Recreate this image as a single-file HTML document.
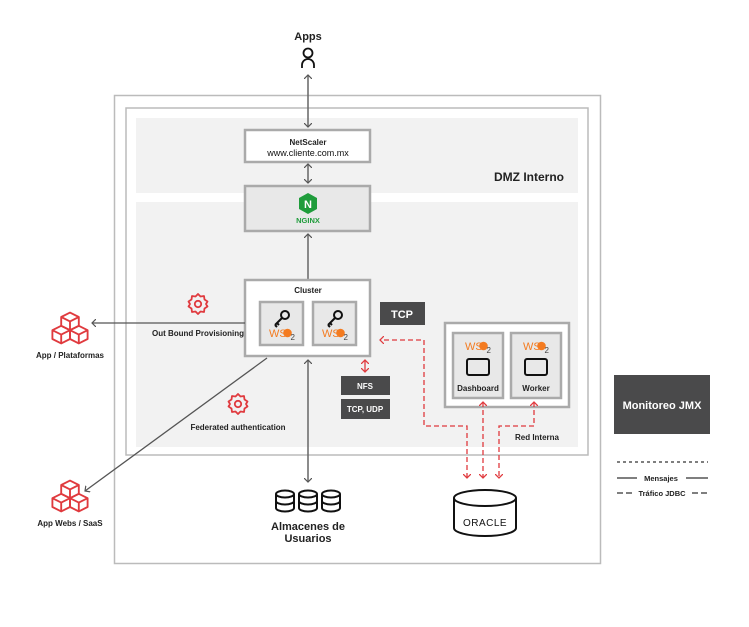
<!DOCTYPE html>
<html><head><meta charset="utf-8"><style>
html,body{margin:0;padding:0;background:#fff}
svg{display:block}
text{font-family:"Liberation Sans",sans-serif;font-weight:bold;fill:#222}
</style></head><body>
<svg width="749" height="627" viewBox="0 0 749 627" xmlns="http://www.w3.org/2000/svg">
<defs>
<marker id="ag" markerWidth="8" markerHeight="8" refX="4" refY="4" orient="auto-start-reverse" markerUnits="userSpaceOnUse"><path d="M0,0 L4,4 L0,8" fill="none" stroke="#555" stroke-width="1.2"/></marker>
<marker id="ar" markerWidth="8" markerHeight="8" refX="4" refY="4" orient="auto-start-reverse" markerUnits="userSpaceOnUse"><path d="M0,0 L4,4 L0,8" fill="none" stroke="#e03a3e" stroke-width="1.3"/></marker>
<g id="gear"><circle cx="0" cy="0" r="3.2" fill="none" stroke="#e03a3e" stroke-width="1.8"/><path d="M0,-10 L2.5,-7.5 L6,-8 L6.5,-4.5 L9.5,-2.5 L8,0 L9.5,2.5 L6.5,4.5 L6,8 L2.5,7.5 L0,10 L-2.5,7.5 L-6,8 L-6.5,4.5 L-9.5,2.5 L-8,0 L-9.5,-2.5 L-6.5,-4.5 L-6,-8 L-2.5,-7.5 Z" fill="none" stroke="#e03a3e" stroke-width="1.8" stroke-linejoin="round"/></g>
<g id="cubes" fill="none" stroke="#e03a3e" stroke-width="1.7" stroke-linejoin="round" transform="scale(1.1)">
<path d="M0,-14 L8,-10 L8,-2 L0,2 L-8,-2 L-8,-10 Z M-8,-10 L0,-6 L8,-10 M0,-6 L0,2"/>
<path d="M-8,-2 L0,2 L0,10 L-8,14 L-16,10 L-16,2 Z M-16,2 L-8,6 L0,2 M-8,6 L-8,14"/>
<path d="M8,-2 L16,2 L16,10 L8,14 L0,10 L0,2 Z M0,2 L8,6 L16,2 M8,6 L8,14"/>
</g>
<g id="db" fill="none" stroke="#111" stroke-width="2"><ellipse cx="0" cy="-7" rx="9" ry="3.5"/><path d="M-9,-7 V7 A9,3.5 0 0 0 9,7 V-7 M-9,0 A9,3.5 0 0 0 9,0"/></g>
<g id="wso"><text x="0" y="0" font-size="11" style="fill:#f47b20;font-weight:normal">WS</text><circle cx="18.5" cy="-4" r="4.3" fill="#f47b20"/><text x="21.5" y="3" font-size="8" style="fill:#444;font-weight:normal">2</text></g>
<g id="key" fill="none" stroke="#111" stroke-width="2"><circle cx="4" cy="-4" r="4"/><path d="M1,-1 L-6,6 M-4,4 L-2,6 M-6,6 L-4,8"/></g>
</defs>

<rect x="114.5" y="95.5" width="486" height="468" fill="#fff" stroke="#bbb" stroke-width="1.5"/>
<rect x="126" y="108" width="462" height="347" fill="#fff" stroke="#bbb" stroke-width="1.5"/>
<rect x="136" y="118" width="442" height="75" fill="#f2f2f2"/>
<rect x="136" y="202" width="442" height="245" fill="#f2f2f2"/>
<text x="564" y="181" font-size="12" text-anchor="end">DMZ Interno</text>

<text x="308" y="40" font-size="11" text-anchor="middle">Apps</text>
<circle cx="308" cy="53" r="4.5" fill="none" stroke="#111" stroke-width="1.8"/>
<path d="M302,68 V65 A6,6 0 0 1 314,65 V68" fill="none" stroke="#111" stroke-width="1.8"/>
<line x1="308" y1="75" x2="308" y2="127" stroke="#666" stroke-width="1.5" marker-start="url(#ag)" marker-end="url(#ag)"/>

<rect x="245" y="130" width="125" height="32" fill="#fff" stroke="#aaa" stroke-width="2.5"/>
<text x="308" y="145" font-size="8" text-anchor="middle">NetScaler</text>
<text x="308" y="156" font-size="9" text-anchor="middle" style="font-weight:normal;fill:#111">www.cliente.com.mx</text>
<line x1="308" y1="164" x2="308" y2="183" stroke="#666" stroke-width="1.5" marker-start="url(#ag)" marker-end="url(#ag)"/>

<rect x="245" y="186" width="125" height="45" fill="#e8e8e8" stroke="#aaa" stroke-width="2.5"/>
<path d="M308,193 L317,198 L317,209 L308,214 L299,209 L299,198 Z" fill="#1f9c3b"/>
<text x="308" y="208" font-size="11" text-anchor="middle" style="fill:#fff">N</text>
<text x="308" y="223" font-size="7.5" text-anchor="middle" style="fill:#1f9c3b">NGINX</text>
<line x1="308" y1="279" x2="308" y2="234" stroke="#666" stroke-width="1.5" marker-end="url(#ag)"/>

<rect x="245" y="280" width="125" height="76" fill="#fff" stroke="#aaa" stroke-width="2.5"/>
<text x="308" y="293" font-size="8" text-anchor="middle">Cluster</text>
<rect x="260" y="302" width="43" height="43" fill="#e8e8e8" stroke="#aaa" stroke-width="2.5"/>
<rect x="313" y="302" width="43" height="43" fill="#e8e8e8" stroke="#aaa" stroke-width="2.5"/>
<use href="#key" x="281" y="319"/><use href="#key" x="334" y="319"/>
<use href="#wso" x="269" y="337"/><use href="#wso" x="322" y="337"/>

<rect x="380" y="302" width="45" height="23" fill="#4a4a4b"/>
<text x="402" y="318" font-size="11" text-anchor="middle" style="fill:#fff">TCP</text>
<rect x="341" y="376" width="49" height="19" fill="#4a4a4b"/>
<text x="365" y="389" font-size="8" text-anchor="middle" style="fill:#fff">NFS</text>
<rect x="341" y="399" width="49" height="20" fill="#4a4a4b"/>
<text x="365" y="412" font-size="8" text-anchor="middle" style="fill:#fff">TCP, UDP</text>
<line x1="365" y1="360" x2="365" y2="372" stroke="#e03a3e" stroke-width="1.3" marker-start="url(#ar)" marker-end="url(#ar)"/>

<rect x="445" y="323" width="124" height="84" fill="#fff" stroke="#aaa" stroke-width="2.5"/>
<rect x="453" y="333" width="50" height="65" fill="#e8e8e8" stroke="#aaa" stroke-width="2.5"/>
<rect x="511" y="333" width="50" height="65" fill="#e8e8e8" stroke="#aaa" stroke-width="2.5"/>
<use href="#wso" x="465" y="350"/><use href="#wso" x="523" y="350"/>
<rect x="467" y="359" width="22" height="16" rx="2" fill="none" stroke="#111" stroke-width="2"/>
<rect x="525" y="359" width="22" height="16" rx="2" fill="none" stroke="#111" stroke-width="2"/>
<text x="478" y="391" font-size="8" text-anchor="middle">Dashboard</text>
<text x="536" y="391" font-size="8" text-anchor="middle">Worker</text>
<text x="537" y="440" font-size="8" text-anchor="middle">Red Interna</text>

<g fill="none" stroke="#e03a3e" stroke-width="1.3" stroke-dasharray="5,3">
<path d="M467,478 V426 H424 V340 H380" marker-start="url(#ar)" marker-end="url(#ar)"/>
<path d="M483,402 V478" marker-start="url(#ar)" marker-end="url(#ar)"/>
<path d="M534,402 V426 H499 V478" marker-start="url(#ar)" marker-end="url(#ar)"/>
</g>

<ellipse cx="485" cy="498" rx="31" ry="8" fill="#fff" stroke="#111" stroke-width="2"/>
<path d="M454,498 V528 A31,8 0 0 0 516,528 V498" fill="none" stroke="#111" stroke-width="2"/>
<text x="485" y="526" font-size="10" text-anchor="middle" style="font-weight:normal;fill:#111;letter-spacing:0.5px">ORACLE</text>

<line x1="245" y1="323" x2="92" y2="323" stroke="#555" stroke-width="1.3" marker-end="url(#ag)"/>
<line x1="267" y1="358" x2="85" y2="491" stroke="#555" stroke-width="1.3" marker-end="url(#ag)"/>
<use href="#gear" x="198" y="304"/>
<text x="198" y="336" font-size="8" text-anchor="middle">Out Bound Provisioning</text>
<use href="#gear" x="238" y="404"/>
<text x="238" y="430" font-size="8" text-anchor="middle">Federated authentication</text>
<use href="#cubes" x="70" y="328"/>
<text x="70" y="358" font-size="8" text-anchor="middle">App / Plataformas</text>
<use href="#cubes" x="70" y="496"/>
<text x="70" y="526" font-size="8" text-anchor="middle">App Webs / SaaS</text>

<line x1="308" y1="360" x2="308" y2="482" stroke="#666" stroke-width="1.5" marker-start="url(#ag)" marker-end="url(#ag)"/>
<use href="#db" x="285" y="501"/><use href="#db" x="308" y="501"/><use href="#db" x="331" y="501"/>
<text x="308" y="530" font-size="11" text-anchor="middle">Almacenes de</text>
<text x="308" y="542" font-size="11" text-anchor="middle">Usuarios</text>

<rect x="614" y="375" width="96" height="59" fill="#4a4a4b"/>
<text x="662" y="409" font-size="11" text-anchor="middle" style="fill:#fff">Monitoreo JMX</text>
<line x1="617" y1="462" x2="708" y2="462" stroke="#333" stroke-width="1.2" stroke-dasharray="3,3"/>
<line x1="617" y1="478" x2="637" y2="478" stroke="#333" stroke-width="1.2"/>
<line x1="686" y1="478" x2="708" y2="478" stroke="#333" stroke-width="1.2"/>
<text x="661" y="481" font-size="7.5" text-anchor="middle">Mensajes</text>
<line x1="617" y1="493" x2="633" y2="493" stroke="#333" stroke-width="1.2" stroke-dasharray="6,3"/>
<line x1="692" y1="493" x2="708" y2="493" stroke="#333" stroke-width="1.2" stroke-dasharray="6,3"/>
<text x="662" y="496" font-size="7.5" text-anchor="middle">Tráfico JDBC</text>
</svg>
</body></html>
